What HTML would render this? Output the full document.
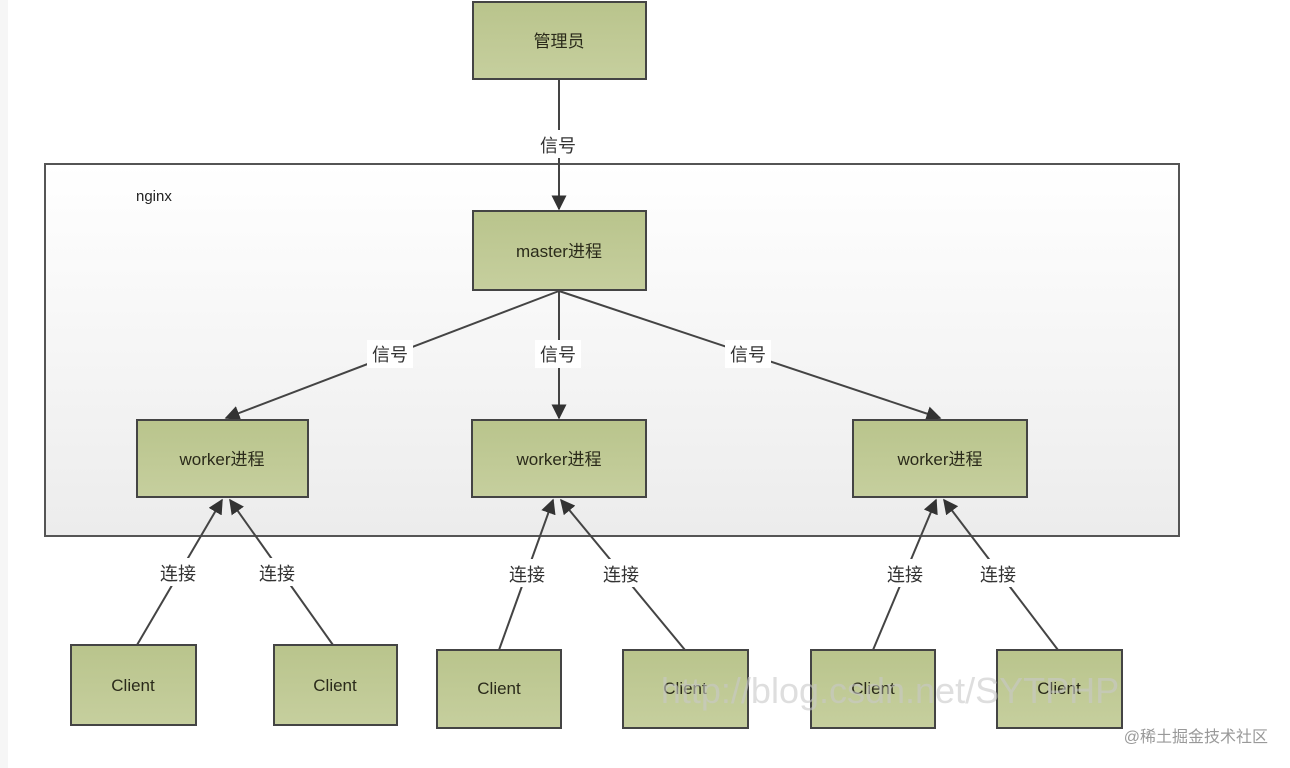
<!DOCTYPE html>
<html><head><meta charset="utf-8">
<style>
html,body{margin:0;padding:0;background:#fff;width:1290px;height:768px;overflow:hidden}
svg text{font-family:"Liberation Sans","Noto Sans CJK SC",sans-serif;}
</style></head><body>
<svg width="1290" height="768" viewBox="0 0 1290 768" xmlns="http://www.w3.org/2000/svg">
<defs>
<linearGradient id="bg" x1="0" y1="0" x2="0" y2="1">
<stop offset="0" stop-color="#ffffff"/><stop offset="1" stop-color="#ececec"/>
</linearGradient>
<linearGradient id="bx" x1="0" y1="0" x2="0" y2="1">
<stop offset="0" stop-color="#b9c48c"/><stop offset="1" stop-color="#c6cf9e"/>
</linearGradient>
<marker id="ar" viewBox="0 0 10 10" refX="9" refY="5" markerWidth="15" markerHeight="15" markerUnits="userSpaceOnUse" orient="auto">
<path d="M0,0 L10,5 L0,10 Z" fill="#333"/>
</marker>
</defs>
<rect x="0" y="0" width="8" height="768" fill="#f6f6f6"/>
<rect x="45" y="164" width="1134" height="372" fill="url(#bg)" stroke="#555" stroke-width="2"/>
<text x="136" y="201" font-size="15" fill="#222">nginx</text>

<g stroke="#444" stroke-width="2" fill="none">
<line x1="559" y1="79" x2="559" y2="209" marker-end="url(#ar)"/>
<line x1="559" y1="291" x2="226" y2="418" marker-end="url(#ar)"/>
<line x1="559" y1="291" x2="559" y2="418" marker-end="url(#ar)"/>
<line x1="559" y1="291" x2="940" y2="418" marker-end="url(#ar)"/>
<line x1="137" y1="645" x2="222" y2="500" marker-end="url(#ar)"/>
<line x1="333" y1="645" x2="230" y2="500" marker-end="url(#ar)"/>
<line x1="499" y1="650" x2="553" y2="500" marker-end="url(#ar)"/>
<line x1="685" y1="650" x2="561" y2="500" marker-end="url(#ar)"/>
<line x1="873" y1="650" x2="936" y2="500" marker-end="url(#ar)"/>
<line x1="1058" y1="650" x2="944" y2="500" marker-end="url(#ar)"/>
</g>

<g font-size="18" fill="#333" text-anchor="middle">
<rect x="535" y="130" width="46" height="28" fill="#fff"/><text x="558" y="152">信号</text>
<rect x="367" y="340" width="46" height="28" fill="#fff"/><text x="390" y="361">信号</text>
<rect x="535" y="340" width="46" height="28" fill="#fff"/><text x="558" y="361">信号</text>
<rect x="725" y="340" width="46" height="28" fill="#fff"/><text x="748" y="361">信号</text>
<rect x="155" y="558" width="46" height="28" fill="#fff"/><text x="178" y="580">连接</text>
<rect x="254" y="558" width="46" height="28" fill="#fff"/><text x="277" y="580">连接</text>
<rect x="504" y="559" width="46" height="28" fill="#fff"/><text x="527" y="581">连接</text>
<rect x="598" y="559" width="46" height="28" fill="#fff"/><text x="621" y="581">连接</text>
<rect x="882" y="559" width="46" height="28" fill="#fff"/><text x="905" y="581">连接</text>
<rect x="975" y="559" width="46" height="28" fill="#fff"/><text x="998" y="581">连接</text>
</g>

<g stroke="#444" stroke-width="2" fill="url(#bx)">
<rect x="473" y="2" width="173" height="77"/>
<rect x="473" y="211" width="173" height="79"/>
<rect x="137" y="420" width="171" height="77"/>
<rect x="472" y="420" width="174" height="77"/>
<rect x="853" y="420" width="174" height="77"/>
<rect x="71" y="645" width="125" height="80"/>
<rect x="274" y="645" width="123" height="80"/>
<rect x="437" y="650" width="124" height="78"/>
<rect x="623" y="650" width="125" height="78"/>
<rect x="811" y="650" width="124" height="78"/>
<rect x="997" y="650" width="125" height="78"/>
</g>

<g font-size="17" fill="#2a2a1a" text-anchor="middle">
<text x="559" y="47">管理员</text>
<text x="559" y="257">master进程</text>
<text x="222" y="465">worker进程</text>
<text x="559" y="465">worker进程</text>
<text x="940" y="465">worker进程</text>
<text x="133" y="691">Client</text>
<text x="335" y="691">Client</text>
<text x="499" y="694">Client</text>
<text x="685" y="694">Client</text>
<text x="873" y="694">Client</text>
<text x="1059" y="694">Client</text>
</g>
<text x="890" y="703" font-size="36" fill="#c8c8c8" fill-opacity="0.6" text-anchor="middle" font-family="Liberation Serif,serif">http://blog.csdn.net/SYTPHP</text>
<text x="1268" y="742" font-size="16" fill="#999" text-anchor="end">@稀土掘金技术社区</text>
</svg>
</body></html>
